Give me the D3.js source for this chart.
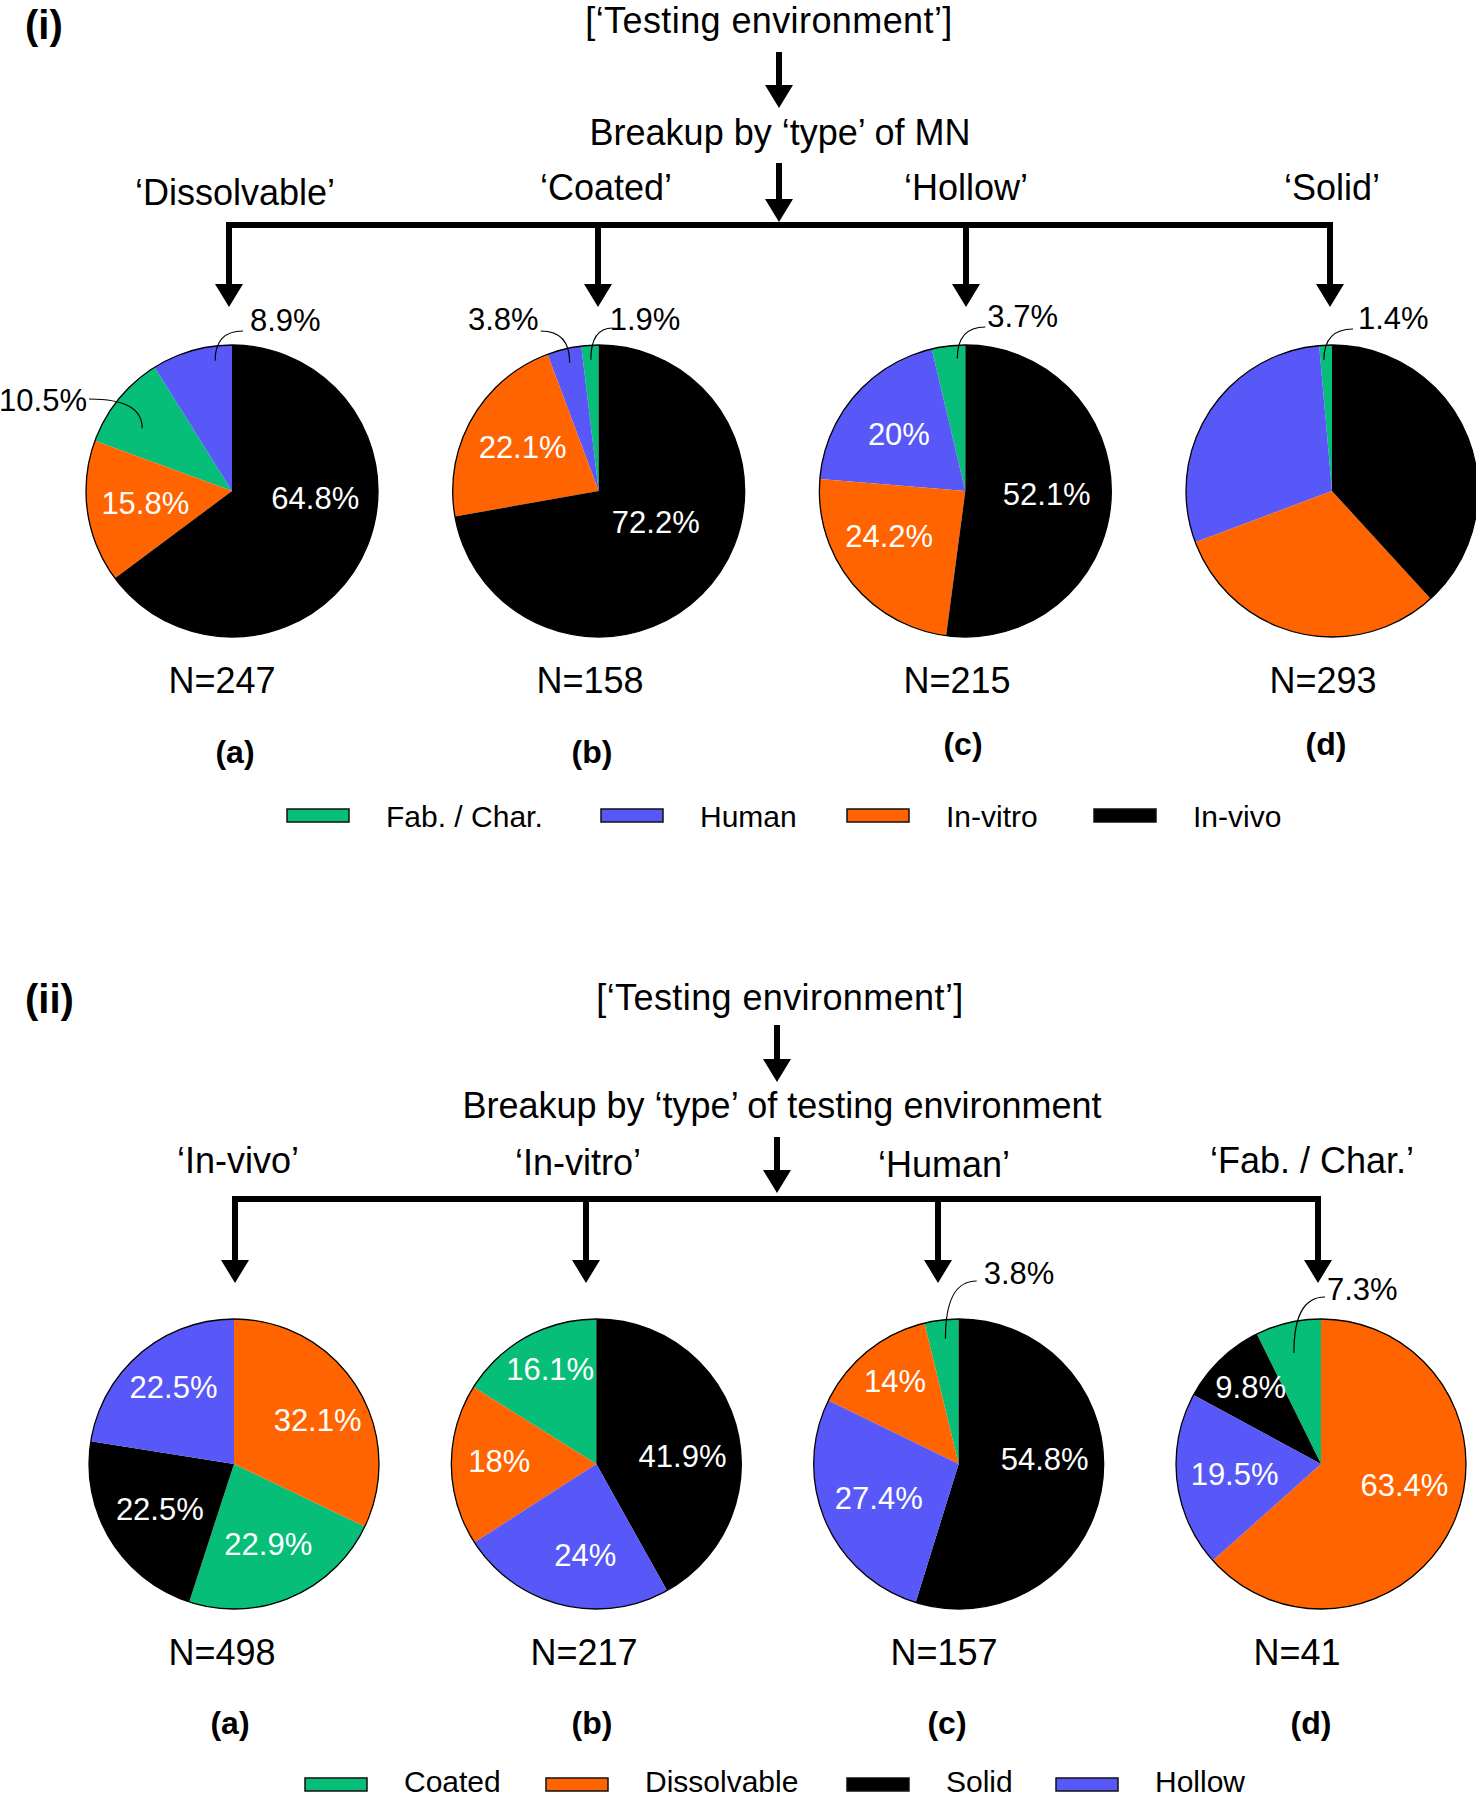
<!DOCTYPE html>
<html><head><meta charset="utf-8">
<script src="https://cdn.jsdelivr.net/npm/d3@7"></script>
<style>
body{margin:0;background:#fff}
text{font-family:"Liberation Sans", Arial, Helvetica, sans-serif}
</style>
</head><body>
<svg id="chart" width="1476" height="1800"></svg>
<script>
// ---------------- DATA ----------------
// Part (i): breakup of testing environment by MN type
const envCategories = ["Fab. / Char.", "Human", "In-vitro", "In-vivo"];
const mnTypes = ["Dissolvable", "Coated", "Hollow", "Solid"];
const mnN = [247, 158, 215, 293];
const dissolvableByEnv = [10.5, 8.9, 15.8, 64.8];
const coatedByEnv = [1.9, 3.8, 22.1, 72.2];
const hollowByEnv = [3.7, 20, 24.2, 52.1];
const solidByEnv = [1.4, 29.3, 31.1, 38.2];   // only 1.4% is labelled; rest estimated from angles

// Part (ii): breakup of MN type by testing environment
const typeCategories = ["Coated", "Dissolvable", "Solid", "Hollow"];
const envTypes = ["In-vivo", "In-vitro", "Human", "Fab. / Char."];
const envN = [498, 217, 157, 41];
const inVivoByType = [22.9, 32.1, 22.5, 22.5];
const inVitroByType = [16.1, 18, 41.9, 24];
const humanByType = [3.8, 14, 54.8, 27.4];
const fabByType = [7.3, 63.4, 9.8, 19.5];

const panelLetters = ["(a)", "(b)", "(c)", "(d)"];

// ---------------- STYLE / LAYOUT ----------------
const GREEN = "#06BE78", BLUE = "#5858F8", ORANGE = "#FF6400", BLACK = "#000000";
const colorEnv = d3.scaleOrdinal().domain(envCategories).range([GREEN, BLUE, ORANGE, BLACK]);
const colorType = d3.scaleOrdinal().domain(typeCategories).range([GREEN, ORANGE, BLACK, BLUE]);

const sections = [
  {
    roman: "(i)", romanY: 39,
    title: "[\u2018Testing environment\u2019]", titleX: 769, titleY: 33,
    sub: "Breakup by \u2018type\u2019 of MN", subX: 780, subY: 145,
    arrowX: 779, arrows: [[52, 108], [163, 222]],
    barY: 225, dropX: [229, 598, 966, 1330], dropTip: 307,
    headers: mnTypes, headerX: [235, 606, 966, 1332], headerY: [205, 200, 200, 200],
    categories: envCategories, color: colorEnv,
    series: [dissolvableByEnv, coatedByEnv, hollowByEnv, solidByEnv],
    N: mnN, pieRange: [232, 1332], pieY: 491, R: 146,
    NX: [222, 590, 957, 1323], NY: 693,
    panelX: [235, 592, 963, 1326], panelY: [763, 763, 755, 755],
    legendX: [287, 601, 847, 1094], legendY: 809, legendBase: 827,
    inner: [["In-vitro", "In-vivo"], ["In-vitro", "In-vivo"], ["Human", "In-vitro", "In-vivo"], []],
    outer: [
      [{cat: "Human", dx: 18, dy: -160, anchor: "start", lx: -7, ly: 0, t: 0.77, f: 0.9},
       {cat: "Fab. / Char.", dx: -145, dy: -80, anchor: "end", lx: 2, ly: -12, t: 0.39, f: 0.75}],
      [{cat: "Human", dx: -60, dy: -161, anchor: "end", lx: 2, ly: 1, t: 0.57, f: 0.9},
       {cat: "Fab. / Char.", dx: 11, dy: -161, anchor: "start", lx: 3, ly: -2, t: 0.5, f: 0.9}],
      [{cat: "Fab. / Char.", dx: 22, dy: -164, anchor: "start", lx: -2, ly: 0, t: 0.74, f: 0.91}],
      [{cat: "Fab. / Char.", dx: 26, dy: -162, anchor: "start", lx: -5, ly: 0, t: 0.3, f: 0.9}]
    ],
    nudge: {"0-In-vivo": [5, -32], "1-In-vivo": [-10, -25], "2-In-vitro": [-8, -10], "2-In-vivo": [-6, -3]}
  },
  {
    roman: "(ii)", romanY: 1013,
    title: "[\u2018Testing environment\u2019]", titleX: 780, titleY: 1010,
    sub: "Breakup by \u2018type\u2019 of testing environment", subX: 782, subY: 1118,
    arrowX: 777, arrows: [[1025, 1082], [1137, 1193]],
    barY: 1199, dropX: [235, 586, 938, 1318], dropTip: 1283,
    headers: envTypes, headerX: [238, 578, 944, 1312], headerY: [1173, 1175, 1177, 1173],
    categories: typeCategories, color: colorType,
    series: [inVivoByType, inVitroByType, humanByType, fabByType],
    N: envN, pieRange: [234, 1321], pieY: 1464, R: 145,
    NX: [222, 584, 944, 1297], NY: 1665,
    panelX: [230, 592, 947, 1311], panelY: [1734, 1734, 1734, 1734],
    legendX: [305, 546, 847, 1056], legendY: 1778, legendBase: 1792,
    inner: [typeCategories, typeCategories, ["Dissolvable", "Solid", "Hollow"], ["Dissolvable", "Solid", "Hollow"]],
    outer: [[], [],
      [{cat: "Coated", dx: 25, dy: -180, anchor: "start", lx: -7, ly: -3, t: 0.56, f: 0.87}],
      [{cat: "Coated", dx: 6, dy: -164, anchor: "start", lx: -2, ly: -3, t: 0.48, f: 0.79}]
    ],
    nudge: {"0-Hollow": [-4, -11], "0-Dissolvable": [10, 3], "1-Coated": [-4, -19], "1-Solid": [2, 14],
            "1-Hollow": [10, 7], "1-Dissolvable": [-10, -3], "2-Solid": [0, -18], "2-Dissolvable": [-9, -15],
            "3-Dissolvable": [4, -14], "3-Solid": [-10, -14]}
  }
];

const svg = d3.select("#chart");
const HEAD_W = 28, HEAD_H = 23, SHAFT = 6;

function arrowHead(g, x, tip) {
  g.append("path")
    .attr("d", `M${x - HEAD_W / 2},${tip - HEAD_H}L${x + HEAD_W / 2},${tip - HEAD_H}L${x},${tip}Z`)
    .attr("fill", "#000");
}
function arrow(g, x, y1, y2) {
  g.append("line").attr("x1", x).attr("x2", x).attr("y1", y1).attr("y2", y2 - HEAD_H + 1)
    .attr("stroke", "#000").attr("stroke-width", SHAFT);
  arrowHead(g, x, y2);
}

const pie = d3.pie().value(d => d.value); // default: sorted descending, clockwise from 12 o'clock

sections.forEach(sec => {
  const g = svg.append("g");

  // section numeral
  g.append("text").attr("x", 25).attr("y", sec.romanY).attr("font-size", 40)
    .attr("font-weight", "bold").text(sec.roman);

  // headings
  g.append("text").attr("x", sec.titleX).attr("y", sec.titleY).attr("text-anchor", "middle")
    .attr("font-size", 36).attr("letter-spacing", 0.4).text(sec.title);
  g.append("text").attr("x", sec.subX).attr("y", sec.subY).attr("text-anchor", "middle")
    .attr("font-size", 36).text(sec.sub);

  // top arrows
  sec.arrows.forEach(([a, b]) => arrow(g, sec.arrowX, a, b));

  // branching bar
  const dx = sec.dropX;
  g.append("path")
    .attr("d", `M${dx[0]},${sec.dropTip - HEAD_H + 1}V${sec.barY}H${dx[3]}V${sec.dropTip - HEAD_H + 1}`)
    .attr("fill", "none").attr("stroke", "#000").attr("stroke-width", SHAFT)
    .attr("stroke-linejoin", "miter");
  dx.forEach((x, i) => {
    if (i > 0 && i < 3) {
      g.append("line").attr("x1", x).attr("x2", x).attr("y1", sec.barY).attr("y2", sec.dropTip - HEAD_H + 1)
        .attr("stroke", "#000").attr("stroke-width", SHAFT);
    }
    arrowHead(g, x, sec.dropTip);
  });

  // branch headers
  sec.headers.forEach((h, i) => {
    g.append("text").attr("x", sec.headerX[i]).attr("y", sec.headerY[i]).attr("text-anchor", "middle")
      .attr("font-size", 36).text(`\u2018${h}\u2019`);
  });

  // pies
  const xPie = d3.scalePoint().domain(sec.headers).range(sec.pieRange);
  const arc = d3.arc().innerRadius(0).outerRadius(sec.R);
  const labelArc = d3.arc().innerRadius(sec.R * 0.6).outerRadius(sec.R * 0.6);

  sec.series.forEach((vals, pi) => {
    const data = sec.categories.map((c, k) => ({cat: c, value: vals[k]}));
    const arcs = pie(data);
    const cx = xPie(sec.headers[pi]), cy = sec.pieY;
    const pg = g.append("g").attr("transform", `translate(${cx},${cy})`);

    pg.selectAll("path.slice").data(arcs).join("path").attr("class", "slice")
      .attr("d", arc).attr("fill", d => sec.color(d.data.cat));
    pg.append("circle").attr("r", sec.R).attr("fill", "none").attr("stroke", "#000").attr("stroke-width", 1.3);

    // inner labels
    arcs.filter(a => sec.inner[pi].includes(a.data.cat)).forEach(a => {
      const [lx, ly] = labelArc.centroid(a);
      const n = sec.nudge[`${pi}-${a.data.cat}`] || [0, 0];
      pg.append("text").attr("x", lx + n[0]).attr("y", ly + n[1]).attr("dy", "0.35em")
        .attr("text-anchor", "middle").attr("font-size", 31).attr("fill", "#fff")
        .text(`${a.data.value}%`);
    });

    // outer labels with leaders
    sec.outer[pi].forEach(o => {
      const a = arcs.find(d => d.data.cat === o.cat);
      const ang = a.startAngle + (a.endAngle - a.startAngle) * o.t;
      const er = sec.R * o.f;
      const ex = Math.sin(ang) * er, ey = -Math.cos(ang) * er;
      pg.append("text").attr("x", o.dx).attr("y", o.dy).attr("text-anchor", o.anchor)
        .attr("font-size", 31).attr("fill", "#000").text(`${a.data.value}%`);
      const sx = o.dx + o.lx, sy = o.dy + o.ly;
      pg.append("path")
        .attr("d", `M${sx},${sy}C${sx + (ex - sx) * 0.7},${sy} ${ex},${sy + (ey - sy) * 0.35} ${ex},${ey}`)
        .attr("fill", "none").attr("stroke", "#000").attr("stroke-width", 1.2);
    });

    // N and panel letters
    g.append("text").attr("x", sec.NX[pi]).attr("y", sec.NY).attr("text-anchor", "middle")
      .attr("font-size", 36).text(`N=${sec.N[pi]}`);
    g.append("text").attr("x", sec.panelX[pi]).attr("y", sec.panelY[pi]).attr("text-anchor", "middle")
      .attr("font-size", 32).attr("font-weight", "bold").text(panelLetters[pi]);
  });

  // legend
  sec.categories.forEach((c, i) => {
    const x = sec.legendX[i];
    g.append("rect").attr("x", x).attr("y", sec.legendY).attr("width", 62).attr("height", 13)
      .attr("fill", sec.color(c)).attr("stroke", "#111").attr("stroke-width", 1.5);
    g.append("text").attr("x", x + 99).attr("y", sec.legendBase).attr("font-size", 30).text(c);
  });
});
</script>
</body></html>
